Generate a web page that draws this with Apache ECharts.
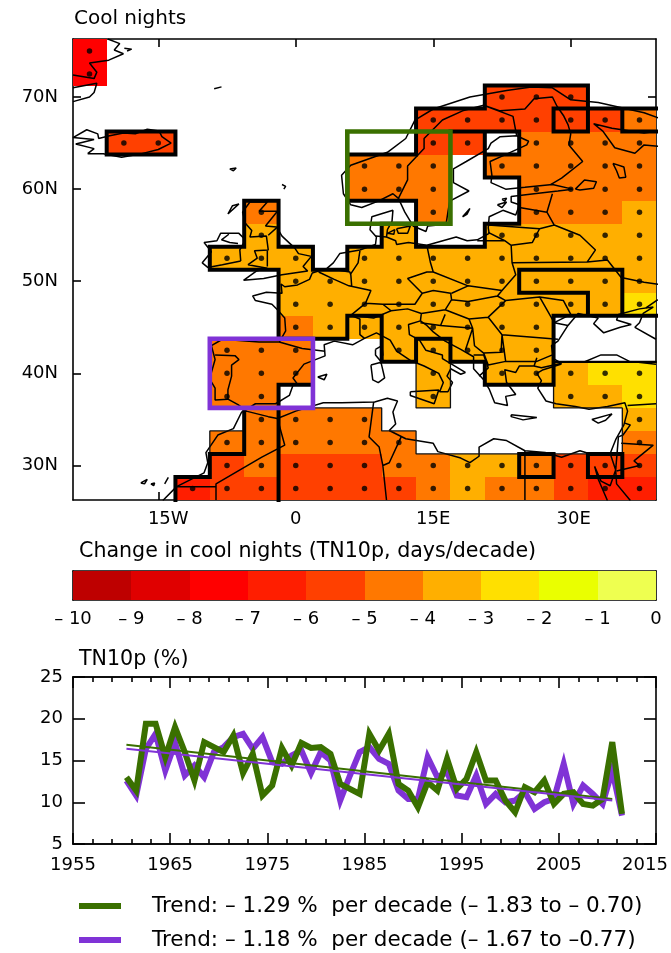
<!DOCTYPE html>
<html><head><meta charset="utf-8">
<style>html,body{margin:0;padding:0;background:#fff}#c{width:671px;height:953px}</style>
<script src="https://cdn.jsdelivr.net/npm/echarts@6/dist/echarts.min.js"></script>
</head><body><div id="c"></div>
<script>
const FONT='"DejaVu Sans",Verdana,sans-serif';
const GREEN='#3a7000', PURPLE='#8033d6';
/* ---------- colour scale ---------- */
const scaleLows=[-10,-9,-8,-7,-6,-5,-4,-3,-2,-1];
const scaleColors=['#be0000','#e00000','#ff0000','#ff1e00','#ff4000','#ff7800','#ffaf00','#ffe000','#eaff00','#eeff50'];
/* ---------- map cells: lon = col*3.75, lat rows every 2.5 deg; value = days/decade ---------- */
const cols=[-6,-5,-4,-3,-2,-1,0,1,2,3,4,5,6,7,8,9,10];
const _=null;
const lats=[75,72.5,70,67.5,65,62.5,60,57.5,55,52.5,50,47.5,45,42.5,40,37.5,35,32.5,30,27.5];
const row75  =[-7.5,_,_,_,_,_,_,_,_,_,_,_,_,_,_,_,_];
const row72  =[-7.5,_,_,_,_,_,_,_,_,_,_,_,_,_,_,_,_];
const row70  =[_,_,_,_,_,_,_,_,_,_,_,_,-5.5,-5.5,-5.5,_,_];
const row67  =[_,_,_,_,_,_,_,_,_,_,-5.5,-5.5,-5.5,-5.5,-5.5,-5.5,-4.5];
const row65  =[_,-5.5,-5.5,_,_,_,_,_,_,_,-5.5,-5.5,_,-4.5,-4.5,-4.5,-4.5];
const row62  =[_,_,_,_,_,_,_,_,-4.5,-4.5,-4.5,_,-4.5,-4.5,-4.5,-4.5,-4.5];
const row60  =[_,_,_,_,_,_,_,_,-4.5,-4.5,-4.5,_,_,-4.5,-4.5,-4.5,-4.5];
const row57  =[_,_,_,_,_,-4.5,_,_,_,_,-4.5,_,_,-4.5,-4.5,-4.5,-3.5];
const row55  =[_,_,_,_,_,-3.5,_,_,_,-3.5,_,_,-3.5,-3.5,-3.5,-3.5,-3.5];
const row52  =[_,_,_,_,-3.5,-3.5,-3.5,_,-3.5,-3.5,-3.5,-3.5,-3.5,-3.5,-3.5,-3.5,-3.5];
const row50  =[_,_,_,_,_,_,-3.5,-3.5,-3.5,-3.5,-3.5,-3.5,-3.5,-3.5,-3.5,-3.5,-3.5];
const row47  =[_,_,_,_,_,_,-3.5,-3.5,-3.5,-3.5,-3.5,-3.5,-3.5,-3.5,-3.5,-3.5,-2.5];
const row45  =[_,_,_,_,_,_,-4.5,-3.5,-3.5,-3.5,-3.5,-3.5,-3.5,-3.5,_,_,_];
const row42  =[_,_,_,_,-4.5,-4.5,-4.5,_,_,-3.5,-3.5,-3.5,-3.5,-3.5,_,_,_];
const row40  =[_,_,_,_,-4.5,-4.5,-4.5,_,_,_,-3.5,_,-3.5,-3.5,-3.5,-2.5,-2.5];
const row37  =[_,_,_,_,-4.5,-4.5,_,_,_,_,-3.5,_,_,_,-3.5,-3.5,-2.5];
const row35  =[_,_,_,_,_,-4.5,-4.5,-4.5,-4.5,_,_,_,_,_,_,_,-3.5];
const row32  =[_,_,_,_,-4.5,-4.5,-4.5,-4.5,-4.5,-4.5,_,_,_,_,_,_,-4.5];
const row30  =[_,_,_,_,-5.5,-4.5,-5.5,-5.5,-5.5,-4.5,-4.5,-3.5,-3.5,-4.5,-5.5,-5.5,-5.5];
const row27  =[_,_,_,-6.5,-5.5,-5.5,-5.5,-5.5,-5.5,-5.5,-4.5,-3.5,-4.5,-4.5,-5.5,-6.5,-6.5];
const rows=[row75,row72,row70,row67,row65,row62,row60,row57,row55,row52,row50,row47,row45,row42,row40,row37,row35,row32,row30,row27];
const noDotCells=['3/55'];
/* ---------- outlines: [column edge, latitude] ---------- */
const thickEdges=[
 [[-5,66.25],[-3,66.25],[-3,63.75],[-5,63.75],[-5,66.25]],
 [[2,58.75],[2,63.75],[4,63.75],[4,68.75],[6,68.75],[6,71.25],[9,71.25],[9,66.25],[8,66.25],[8,68.75],[11,68.75]],
 [[10,68.75],[10,66.25],[11,66.25]],
 [[5,66.25],[7,66.25],[7,63.75],[6,63.75]],
 [[6,66.25],[6,61.25],[7,61.25],[7,56.25],[6,56.25],[6,53.75],[4,53.75],[4,58.75],[2,58.75]],
 [[4,56.25],[3,56.25],[3,53.75],[2,53.75],[2,51.25],[1,51.25],[1,53.75],[0,53.75],[0,58.75],[-1,58.75],[-1,53.75],[-2,53.75],[-2,51.25],[0,51.25],[0,43.75],[2,43.75],[2,46.25],[3,46.25],[3,41.25],[4,41.25],[4,43.75],[5,43.75],[5,41.25],[6,41.25],[6,38.75],[8,38.75],[8,46.25],[11,46.25]],
 [[7,48.75],[7,51.25],[10,51.25],[10,46.25]],
 [[7,48.75],[9,48.75],[9,46.25]],
 [[0,38.75],[1,38.75]],
 [[0,38.75],[0,26.25]],
 [[-1,36.25],[-1,31.25],[-2,31.25],[-2,28.75],[-3,28.75],[-3,26.25]],
 [[7,31.25],[8,31.25],[8,28.75],[7,28.75],[7,31.25]],
 [[9,31.25],[10,31.25],[10,28.75],[9,28.75],[9,31.25]]
];
const mediumEdges=[[[8,41.25],[11,41.25]]];
const thinEdges=[
 [[-2,31.25],[-2,33.75],[-1,33.75]],
 [[-1,36.25],[3,36.25],[3,33.75],[4,33.75],[4,31.25],[10,31.25],[10,36.25],[8,36.25],[8,38.75]],
 [[4,41.25],[4,36.25],[5,36.25],[5,41.25]]
];
/* ---------- study regions: [lon,lat] ---------- */
const northBox=[[5.625,66.25],[16.875,66.25],[16.875,56.25],[5.625,56.25],[5.625,66.25]];
const iberiaBox=[[-9.375,43.75],[1.875,43.75],[1.875,36.25],[-9.375,36.25],[-9.375,43.75]];
/* ---------- coastlines and borders: [lon,lat] ---------- */
const coastLines=[
 [[-20.5,76.3],[-19.2,75.8],[-19.8,75.1],[-18.8,74.7],[-20.4,74],[-20.3,73.8],[-22.5,73.7],[-21.7,72.7],[-22,72],[-24.3,72.4]],
 [[-24.3,71],[-21.7,71.5],[-22,70.5],[-22.5,70],[-24.3,69.5]],
 [[-18.7,75.3],[-17.9,75.2],[-18.4,75]],
 [[-8.9,70.9],[-8.1,71.1]],
 [[-7.2,62.2],[-6.5,62.3],[-6.8,62],[-7.2,62.2]],
 [[-1.5,60.5],[-1.1,60.3],[-1.3,60]],
 [[-22.7,63.85],[-21,63.85],[-19,63.45],[-17,63.8],[-15,64.3],[-13.6,65],[-14.6,65.7],[-14.9,66.3],[-16.2,66.5],[-17.5,66],[-18.8,66.1],[-20.3,65.8],[-21.5,65.5],[-21.6,66],[-22.8,66.45],[-24.3,65.6],[-22,65.4],[-24,64.9],[-22,64.4],[-22.7,63.85]],
 [[-5.7,50.1],[-3.5,50.3],[-1.5,50.7],[1.3,51.1],[0.8,51.6],[1.7,52.7],[0.3,53],[-0.1,53.6],[-1.5,54.9],[-2.1,55.9],[-3.3,56],[-2,57.6],[-4,57.6],[-3.1,58.6],[-5,58.6],[-5.8,57.5],[-5.5,56.3],[-4.8,55.5],[-5,54.8],[-3.2,54.9],[-3,53.4],[-4.5,53.3],[-4.2,52.5],[-5.2,51.8],[-3.1,51.4],[-4.3,51.1],[-5.7,50.1]],
 [[-6,52.2],[-6.1,53.4],[-5.5,54.5],[-6.2,55.2],[-8.2,55.2],[-8.6,54.4],[-10,54.2],[-9.2,53.2],[-10.2,52],[-9.6,51.5],[-8,51.8],[-6,52.2]],
 [[-7.4,57.3],[-6.2,58.4],[-6.9,58.2],[-7.4,57.3]],
 [[41,67.2],[38,68.3],[33,69.4],[30,69.7],[28,71],[25.7,71.1],[23,70.7],[19,70],[15,68.7],[13,67.5],[12,65.5],[10,64],[6,62.6],[5,61.5],[5.2,59.5],[6,58.3],[7.2,58],[9,58.7],[10.6,59.5],[11.2,59],[11.9,57.5],[12.8,56],[14.2,55.4],[14.4,56],[16.4,56.2],[16.6,57.5],[16.8,58.7],[18.9,59.8],[17.2,60.7],[17.2,62.2],[18.6,63],[21,64.4],[21.3,65],[22.3,65.7],[24.1,65.8],[25.4,65.2],[25.2,64.8],[23,63.8],[21.2,63],[21.4,61.5],[21.3,60.7],[22.9,60],[25,60.2],[28,60.5],[30.2,60],[28.6,59.8],[26,59.5],[23.5,59.2],[23.5,58.6],[24.4,58.3],[24,57.2],[22.6,57.7],[21.1,57],[21,55.8],[21.1,55.2],[19.8,54.5],[18.7,54.4],[17.5,54.8],[14.3,53.9],[12.3,54.2],[11,54],[10.9,54.4],[9.9,54.8],[10,55.6],[10.5,56.5],[10.6,57.7],[8.3,57],[8.1,55.6],[8.8,54.8],[8.7,54],[7,53.4],[4.8,53],[4.1,52],[3.4,51.4],[1.8,50.9],[1.5,50.2],[0.2,49.6],[-1.2,49.4],[-1.6,49.7],[-1.5,48.7],[-3.2,48.8],[-4.7,48.4],[-4.4,47.9],[-2.6,47.5],[-2,46.9],[-1.2,46],[-1.1,44.6],[-1.8,43.4],[-4,43.4],[-8,43.7],[-9.2,43],[-8.8,41.5],[-9.4,39.4],[-8.8,38.4],[-8.8,37.1],[-7.4,37.2],[-6.3,36.6],[-5.5,36],[-4.4,36.7],[-2.2,36.7],[-0.7,37.6],[-0.3,38.7],[0.2,38.8],[-0.3,39.5],[0.9,41],[3.2,41.9],[3.1,43.1],[4.2,43.5],[6.2,43.1],[7.5,43.8],[8.8,44.4],[10.3,43.6],[11,42.4],[12.5,41.4],[14,40.8],[15.6,40],[16.1,39],[15.7,38],[16.6,38],[17.1,39],[16.5,39.7],[16.9,40.5],[18,39.9],[18.5,40.1],[16,41.6],[16,42],[14.2,42.5],[13.5,43.6],[12.4,44.2],[12.3,45.3],[13.6,45.7],[14.3,45.2],[15,44.5],[16.3,43.5],[18,42.6],[19.4,41.8],[19.4,40.5],[20.5,39.3],[21.1,38.3],[21.7,36.8],[23.1,36.5],[22.9,37.5],[24,37.7],[23,39],[22.8,40.4],[24,40.1],[24.4,40.8],[26,40.8],[26.8,40.6],[29,41.1],[28.1,41.6],[27.9,43],[28.6,43.5],[29.7,45.2],[30.8,46.5],[33,46],[32.5,45.4],[33.6,44.4],[35.4,45],[36.6,45.3],[35,45.8],[35.2,46.4],[37.5,47],[39,47.2],[37.9,46.5],[37.5,45.5],[37,45],[39.3,43.7]],
 [[29,41.2],[31.4,41.2],[33.3,42],[35,42],[36.4,41.3],[39.3,41]],
 [[29,41],[27,40.4],[26.3,40],[26.8,39.2],[26.4,38.4],[27.3,37],[28.4,36.7],[30.5,36.4],[32,36.1],[34,36.4],[35.9,36.8],[36.2,35.9],[35.8,34.4],[34.9,32.8],[34.3,31.3],[32.6,31.1],[31,31.6],[29,30.9],[27.2,31.4],[25,31.6],[23,32.7],[21.6,32.9],[20,32],[20,31],[19,30.3],[18,30.8],[15.5,31.5],[15,32.4],[12,32.9],[10.2,33.8],[10.9,34.5],[10.6,35.8],[11.1,37],[10,37.3],[8.6,36.9],[5,36.8],[3,36.8],[0,35.9],[-2,35.1],[-3,35.3],[-5.4,35.9],[-5.9,35.8],[-6.8,34],[-8.5,33.3],[-9.8,31.4],[-9.6,30.3],[-10,29.2],[-13,27.7],[-14.5,26.2]],
 [[32.6,29.9],[33.3,28.3],[34.3,27.8],[34.9,29.5],[35,28],[36.5,26.2]],
 [[32.6,29.9],[33,28.5],[34,26.2]],
 [[12.5,38],[15.6,38.2],[15.1,36.7],[12.5,37.6],[12.5,38]],
 [[8.2,40.9],[9.3,41.2],[9.7,39.5],[9,39],[8.4,39.3],[8.2,40.9]],
 [[8.7,42.6],[9.4,43],[9.5,42],[9.2,41.4],[8.7,42],[8.7,42.6]],
 [[23.5,35.5],[26.3,35.2],[24.8,34.95],[23.5,35.3],[23.5,35.5]],
 [[32.3,35],[34.5,35.6],[33.8,34.9],[33,34.6],[32.3,35]],
 [[2.4,39.6],[3.4,39.9],[3.1,39.3],[2.4,39.6]],
 [[-16.9,28.1],[-16.2,28.5],[-16.5,28],[-16.9,28.1]],
 [[-15.8,28],[-15.4,28.1],[-15.5,27.8],[-15.8,28]],
 [[-14.3,28],[-13.9,28.7],[-13.7,28.6],[-14.3,28]],
 [[18.2,57],[19,57.9],[18.7,57.3],[18.2,57]],
 [[22,58.3],[23,58.6],[22.5,58],[22,58.3]],
 [[22.5,58.9],[23,59],[22.8,58.7],[22.5,58.9]],
 [[10,55.2],[10.8,55.6],[10.7,55.1],[10,55.2]],
 [[11,55.7],[12.5,56],[12.2,55.2],[11.2,55.2],[11,55.7]],
 [[30.5,60],[31.5,61],[32.8,60.8],[32.5,60.1],[31,59.9],[30.5,60]],
 [[34.6,62.8],[35.8,62.4],[36,61.3],[35.3,61.2],[35,62],[34.6,62.8]],
 [[41,66.5],[38,66.1],[34.5,66.6],[32.5,67.1],[33.5,66.3],[34.8,64.5],[37,63.9],[38,64.8],[40,64.6],[41,65.5]]
];
const borderLines=[
 [[-7.3,55.1],[-8.1,54.5],[-7.2,54.2],[-6.3,54.1]],
 [[-3,55],[-2.1,55.8]],
 [[-3.1,53.3],[-3.1,51.6]],
 [[28.5,69],[29.2,68],[29.7,67],[30,66],[29.8,64.8],[31.3,63],[29,61.2],[27.8,60.5]],
 [[11.2,59],[12.2,61],[12.2,62.5],[14,64.4],[14,65.5],[16,67.5],[18.2,68.5],[20.5,69.1],[22.3,68.5],[25,68.7],[26,69.8],[28,70],[28.5,69]],
 [[20.5,69.1],[23.7,67.9],[24.1,65.8]],
 [[-1.8,43.4],[0.7,42.7],[3.2,42.4]],
 [[-8.8,42],[-6.6,41.9],[-6.2,41.5],[-7,40.9],[-7,39.7],[-7.4,38.2],[-7.4,37.2]],
 [[2.5,51],[4.2,50.2],[5.8,49.5],[8.2,49],[7.6,47.6],[6,46.3],[7,45.9],[7,44.2],[7.5,43.8]],
 [[3.4,51.4],[5.9,51],[6,50.7]],
 [[7,53.3],[6.8,52],[6,50.8],[6.1,49.5]],
 [[8.7,54.9],[9.9,54.8]],
 [[14.3,53.9],[14.7,52],[15,51],[14.3,51],[12.2,50.3],[13.8,48.7],[13,47.5],[9.5,47.5],[7.6,47.6]],
 [[6,46.3],[8.5,46],[10.4,46.8],[9.5,47.5]],
 [[10.4,46.8],[12.2,47],[13.7,46.5],[13.6,45.7]],
 [[13.7,46.5],[16.3,46.9],[17,48],[16.9,48.7],[15,49],[13.8,48.7]],
 [[15,51],[18.8,49.5],[17,48.7]],
 [[18.8,49.5],[22.5,49],[22,48.4],[18.8,47.8],[17,48]],
 [[22,48.4],[22.9,47.9],[21,46.1],[18.9,45.9],[16.3,46.9]],
 [[22.5,49],[24,50.7],[23.6,52],[23.5,53.9],[22.8,54.4],[19.8,54.4]],
 [[21,56.1],[26.6,55.7]],
 [[24.4,58],[27.4,57.5]],
 [[28,59.5],[27.4,57.5],[28.2,56.1],[26.6,55.7],[25.8,54.2],[23.5,53.9]],
 [[21,55.3],[22.8,54.4]],
 [[23.6,52],[31.8,52.1]],
 [[31.8,52.1],[32.7,53.4],[31,55],[28.2,56.1]],
 [[31.8,52.1],[34,52.3],[35.5,50.4],[38,49.9],[40,49.6]],
 [[39.5,48],[38.2,47.1]],
 [[26.6,48.3],[29.2,47.9],[30,46.4],[28.2,45.5]],
 [[22.9,47.9],[26.6,48.3],[28.2,45.5],[29.7,45.2]],
 [[21,46.1],[22.5,44.2],[28.6,43.7]],
 [[22.5,44.2],[22.9,41.3],[26.3,41.3],[28,42]],
 [[18.9,45.9],[19.3,44.9],[19.5,43],[20.5,42.2],[22.4,42.3],[22.5,44.2]],
 [[15.8,45.2],[19.3,44.9],[18.5,42.5]],
 [[13.6,45.5],[15.8,45.2],[16.3,46.4]],
 [[19.4,42],[20.5,42],[21,40.6],[20,39.7]],
 [[20.5,42.2],[21,40.9],[22.9,41.3]],
 [[26.3,41.7],[26,40.8]],
 [[36.2,36.5],[39.3,36.7]],
 [[35.9,34.6],[36.5,34.4],[35.7,33.3],[35.2,33.1],[34.9,29.5],[34.3,31.3]],
 [[35.5,32.4],[39,32.2],[36.9,30.5],[37.5,30],[35,29.4]],
 [[25,31.6],[25,26.25]],
 [[11.5,33.1],[10.2,30.3],[9.5,30],[9.9,26.25]],
 [[8.5,36.9],[8,33.1],[9.1,32],[9.5,30]],
 [[-2,35.1],[-1.2,32.2],[-3.7,30.9],[-8.7,28],[-8.7,26.25]],
 [[-13.2,27.7],[-8.7,27.7]]
];
/* ---------- time series ---------- */
const years=[1961,1962,1963,1964,1965,1966,1967,1968,1969,1970,1971,1972,1973,1974,1975,1976,1977,1978,1979,1980,1981,1982,1983,1984,1985,1986,1987,1988,1989,1990,1991,1992,1993,1994,1995,1996,1997,1998,1999,2000,2001,2002,2003,2004,2005,2006,2007,2008,2009,2010,2011,2012];
const greenSeries=[13,11.4,19.4,19.4,15.4,19,16,12.6,17.2,16.6,16,18,13.5,15.8,10.8,12,16.5,14.4,17.1,16.5,16.6,15.8,12.2,11.6,11,18.2,16.2,18.2,12.2,11.4,9.4,12.4,11.4,15.2,11.6,12.8,16,12.6,12.6,10.2,8.8,11.8,11.2,12.6,9.8,11,11.2,9.8,9.6,10.4,17.2,8.6];
const purpleSeries=[12.6,10.8,16.4,18.2,13.8,17.1,13.2,14.4,13,16,16.6,17.8,18.2,16.4,17.8,14.8,14.6,15.6,16.2,13.5,16,15,10.2,13.2,16,16.6,15.2,14.6,11.4,10.4,10.4,15.4,13,13.6,10.8,10.6,13.2,9.8,11,10,10.2,11.2,9.2,10,10.4,14.6,9.8,12,11,9.8,13.8,8.4];
const greenTrend=[16.9,10.4], purpleTrend=[16.4,10.2], trendYears=[1961,2011];
const greenText='Trend: – 1.29 %  per decade (– 1.83 to – 0.70)';
const purpleText='Trend: – 1.18 %  per decade (– 1.67 to –0.77)';
/* tick labels */
const lonTicks=[-15,0,15,30], lonNames={'-15':'{a|15W}','0':'0','15':'15E','30':'{b|30E}'};
const latTicks=[30,40,50,60,70];
const yearTicks=[1955,1965,1975,1985,1995,2005,2015];
const yearMinor=[1957,1959,1961,1963,1967,1969,1971,1973,1977,1979,1981,1983,1987,1989,1991,1993,1997,1999,2001,2003,2007,2009,2011,2013];

const edgeLon=k=>(k-0.5)*3.75;
const join=(list)=>{const out=[];list.forEach(p=>{p.forEach(q=>out.push(q));out.push([null,null]);});return out;};
const edgeData=list=>join(list.map(p=>p.map(v=>[edgeLon(v[0]),v[1]])));
const cellData=[],dotData=[];
rows.forEach((r,ri)=>r.forEach((v,ci)=>{ if(v!==null){cellData.push([cols[ci]*3.75,lats[ri],v]);
  if(!noDotCells.includes(cols[ci]+'/'+Math.floor(lats[ri]))) dotData.push([cols[ci]*3.75,lats[ri]]);}}));
const colorOf=v=>scaleColors[scaleLows.findIndex(l=>v>=l&&v<l+1)];
const black={color:'#000',width:1.6};
const LS={color:'#000',fontFamily:FONT,fontSize:18};
const baseAxis={splitLine:{show:false},axisLine:{show:true,onZero:false,lineStyle:black}};
const frameX=(grid,min,max,pos,ticks,len,labels,fmt,extra)=>Object.assign({type:'value',gridIndex:grid,min,max,position:pos},baseAxis,{
  axisTick:ticks?{show:true,inside:true,length:len,lineStyle:black,customValues:ticks}:{show:false},
  axisLabel:labels?Object.assign({show:true,customValues:labels,formatter:fmt,margin:10},LS,extra||{}):{show:false}});
const MLON=[-24.3,39.3],MLAT=[26.25,76.3];
const rect=(a,b)=>{const x=Math.round(a[0]),y=Math.round(a[1]);return {x,y,width:Math.round(b[0])-x,height:Math.round(b[1])-y};};
const option={
 animation:false,backgroundColor:'#fff',
 textStyle:{fontFamily:FONT},
 grid:[{left:73,right:15,top:39,bottom:453,outerBoundsMode:'none'},{left:73,right:15,top:571,bottom:353,outerBoundsMode:'none'},{left:73,right:15,top:677,bottom:109,outerBoundsMode:'none'}],
 xAxis:[
  frameX(0,MLON[0],MLON[1],'bottom',lonTicks,8,lonTicks,v=>lonNames[v],{rich:{a:Object.assign({padding:[0,0,0,20]},LS),b:Object.assign({padding:[0,0,0,6]},LS)}}),
  frameX(0,MLON[0],MLON[1],'top',lonTicks,8),
  Object.assign({type:'value',gridIndex:1,min:-10,max:0,interval:1,position:'bottom'},baseAxis,{axisTick:{show:false},axisLabel:Object.assign({show:true,margin:10,formatter:v=>v<0?'– '+(-v):'0'},LS)}),
  frameX(1,-10,0,'top'),
  frameX(2,1955,2015,'bottom',yearTicks,11,yearTicks,v=>v===2015?'{e|2015}':String(v),{margin:12,rich:{e:Object.assign({padding:[0,22,0,0]},LS)}}),
  frameX(2,1955,2015,'top',yearTicks,11),
  frameX(2,1955,2015,'bottom',yearMinor,5),
  frameX(2,1955,2015,'top',yearMinor,5)
 ],
 yAxis:[
  frameX(0,MLAT[0],MLAT[1],'left',latTicks,8,latTicks,v=>v+'N',{margin:15,padding:[4,0,0,0]}),
  frameX(0,MLAT[0],MLAT[1],'right',latTicks,8),
  frameX(1,0,1,'left'),
  frameX(1,0,1,'right'),
  Object.assign({type:'value',gridIndex:2,min:5,max:25,interval:5,position:'left'},baseAxis,{axisTick:{show:true,inside:true,length:12,lineStyle:black},axisLabel:Object.assign({margin:10,padding:[4,0,0,0]},LS)}),
  Object.assign({type:'value',gridIndex:2,min:5,max:25,interval:5,position:'right'},baseAxis,{axisTick:{show:true,inside:true,length:12,lineStyle:black},axisLabel:{show:false}})
 ],
 legend:{orient:'vertical',left:79,top:895,height:90,padding:0,itemWidth:42,itemHeight:6,itemGap:12,icon:'rect',selectedMode:false,
  data:[greenText,purpleText],
  textStyle:{color:'#000',fontFamily:FONT,fontSize:21.5,padding:[0,0,0,26]}},
 graphic:[
  {type:'text',left:74,top:9,style:{text:'Cool nights',font:'20px '+FONT,fill:'#000'}},
  {type:'text',left:79,top:541,style:{text:'Change in cool nights (TN10p, days/decade)',font:'20.6px '+FONT,fill:'#000'}},
  {type:'text',left:79,top:649,style:{text:'TN10p (%)',font:'20.6px '+FONT,fill:'#000'}}
 ],
 series:[
  {type:'custom',name:'cells',xAxisIndex:0,yAxisIndex:0,z:1,silent:true,clip:true,data:cellData,encode:{x:0,y:1},
   renderItem:(p,api)=>{const lo=api.value(0),la=api.value(1);
     return {type:'rect',shape:rect(api.coord([lo-1.875,la+1.25]),api.coord([lo+1.875,la-1.25])),style:{fill:colorOf(api.value(2))}};}},
  {type:'line',name:'coast',xAxisIndex:0,yAxisIndex:0,z:2,silent:true,showSymbol:false,symbol:'none',clip:true,data:join(coastLines),lineStyle:{color:'#000',width:1.5}},
  {type:'line',name:'borders',xAxisIndex:0,yAxisIndex:0,z:2,silent:true,showSymbol:false,symbol:'none',clip:true,data:join(borderLines),lineStyle:{color:'#000',width:1.5}},
  {type:'line',name:'thin',xAxisIndex:0,yAxisIndex:0,z:3,silent:true,showSymbol:false,symbol:'none',clip:true,data:edgeData(thinEdges),lineStyle:{color:'#111',width:1.3}},
  {type:'line',name:'medium',xAxisIndex:0,yAxisIndex:0,z:3,silent:true,showSymbol:false,symbol:'none',clip:true,data:edgeData(mediumEdges),lineStyle:{color:'#000',width:2.2}},
  {type:'line',name:'thick',xAxisIndex:0,yAxisIndex:0,z:3,silent:true,showSymbol:false,symbol:'none',clip:true,data:edgeData(thickEdges),lineStyle:{color:'#000',width:4,join:'miter',cap:'square'}},
  {type:'scatter',name:'dots',xAxisIndex:0,yAxisIndex:0,z:4,silent:true,symbolSize:5.5,data:dotData,itemStyle:{color:'#000'}},
  {type:'line',name:'box north',xAxisIndex:0,yAxisIndex:0,z:5,silent:true,showSymbol:false,symbol:'none',data:northBox,lineStyle:{color:GREEN,width:4.6,join:'miter',cap:'square'}},
  {type:'line',name:'box iberia',xAxisIndex:0,yAxisIndex:0,z:5,silent:true,showSymbol:false,symbol:'none',data:iberiaBox,lineStyle:{color:PURPLE,width:4.6,join:'miter',cap:'square'}},
  {type:'custom',name:'scale',xAxisIndex:2,yAxisIndex:2,z:1,silent:true,data:scaleLows.map((l,i)=>[l,i]),encode:{x:0},
   renderItem:(p,api)=>{const l=api.value(0);
     return {type:'rect',shape:rect(api.coord([l,1]),api.coord([l+1,0])),style:{fill:scaleColors[api.value(1)]}};}},
  {type:'line',name:purpleText,xAxisIndex:4,yAxisIndex:4,z:3,silent:true,showSymbol:false,symbol:'none',data:years.map((y,i)=>[y-0.5,purpleSeries[i]]),itemStyle:{color:PURPLE},lineStyle:{color:PURPLE,width:6,join:'miter',miterLimit:6}},
  {type:'line',name:greenText,xAxisIndex:4,yAxisIndex:4,z:4,silent:true,showSymbol:false,symbol:'none',data:years.map((y,i)=>[y-0.5,greenSeries[i]]),itemStyle:{color:GREEN},lineStyle:{color:GREEN,width:6,join:'miter',miterLimit:6}},
  {type:'line',name:'green trend',xAxisIndex:4,yAxisIndex:4,z:5,silent:true,showSymbol:false,symbol:'none',data:trendYears.map((y,i)=>[y-0.5,greenTrend[i]]),lineStyle:{color:GREEN,width:2}},
  {type:'line',name:'purple trend',xAxisIndex:4,yAxisIndex:4,z:5,silent:true,showSymbol:false,symbol:'none',data:trendYears.map((y,i)=>[y-0.5,purpleTrend[i]]),lineStyle:{color:PURPLE,width:2}}
 ]
};
echarts.init(document.getElementById('c'),null,{renderer:'canvas'}).setOption(option);
</script></body></html>
